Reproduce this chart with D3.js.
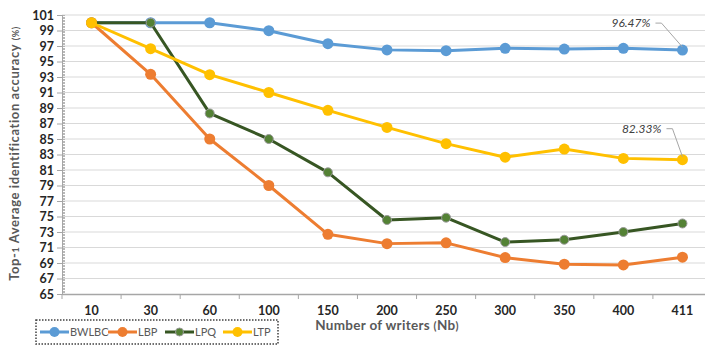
<!DOCTYPE html>
<html>
<head>
<meta charset="utf-8">
<script src="https://cdn.jsdelivr.net/npm/d3@7"></script>
<style>
  body { margin: 0; background: #fff; }
  text { font-family: Lato, "Open Sans", sans-serif; }
</style>
</head>
<body>
<script>
const width = 705;
const height = 345;

const writers = ["10", "30", "60", "100", "150", "200", "250", "300", "350", "400", "411"];
const bwlbc = [100, 100, 100, 98.97, 97.3, 96.5, 96.4, 96.7, 96.6, 96.7, 96.47];
const lbp   = [100, 93.35, 85.0, 79.0, 72.7, 71.5, 71.6, 69.7, 68.85, 68.75, 69.75];
const lpq   = [100, 100, 88.3, 85.0, 80.7, 74.55, 74.85, 71.7, 72.0, 73.0, 74.1];
const ltp   = [100, 96.65, 93.3, 91.0, 88.7, 86.5, 84.4, 82.65, 83.7, 82.5, 82.33];
const yTicks = d3.range(65, 102, 2);

const series = [
  {name: "BWLBC", values: bwlbc, line: "#5b9bd5", dot: "#5b9bd5", r: 5.5},
  {name: "LBP",   values: lbp,   line: "#ed7d31", dot: "#ed7d31", r: 5.5},
  {name: "LPQ",   values: lpq,   line: "#375623", dot: "#548235", r: 4.5},
  {name: "LTP",   values: ltp,   line: "#ffc000", dot: "#ffc000", r: 5.5}
];

const margin = {left: 62, top: 15, right: -7, bottom: 51};

const svg = d3.select('body')
  .append('svg')
  .attr('width', width)
  .attr('height', height);

const x = d3.scaleBand()
  .domain(writers)
  .range([margin.left, width - margin.right]);

const y = d3.scaleLinear()
  .domain([65, 101])
  .range([height - margin.bottom, margin.top]);

// grid lines
svg.append("g")
  .selectAll("line")
  .data(yTicks.slice(1))
  .enter().append("line")
  .attr("x1", margin.left)
  .attr("x2", width - margin.right)
  .attr("y1", d => y(d))
  .attr("y2", d => y(d))
  .attr("stroke", "#d9d9d9")
  .attr("stroke-width", 1);

// minor ticks on y axis (inside)
svg.append("g")
  .selectAll("line")
  .data(d3.range(65, 101.01, 0.2))
  .enter().append("line")
  .attr("x1", margin.left)
  .attr("x2", margin.left + 3)
  .attr("y1", d => Math.round(y(d)) + 0.5)
  .attr("y2", d => Math.round(y(d)) + 0.5)
  .attr("stroke", "#a6a6a6")
  .attr("stroke-width", 0.8);

// y axis
const yAxis = svg.append("g")
  .attr("transform", `translate(${margin.left},0)`)
  .call(d3.axisLeft(y).tickValues(yTicks).tickSize(5).tickPadding(3));
yAxis.select(".domain").attr("stroke", "#a6a6a6");
yAxis.selectAll(".tick line").attr("stroke", "#a6a6a6");
yAxis.selectAll(".tick text")
  .attr("fill", "#262626")
  .style("font-size", "12.5px")
  .style("font-weight", "bold");

// x axis, ticks between categories
const xAxis = svg.append("g")
  .attr("transform", `translate(0,${height - margin.bottom})`)
  .call(d3.axisBottom(x).tickSize(0).tickPadding(12));
xAxis.select(".domain").attr("stroke", "#a6a6a6").attr("stroke-width", 1.3);
xAxis.selectAll(".tick text")
  .attr("fill", "#262626")
  .style("font-size", "12.5px")
  .style("font-weight", "bold");
xAxis.selectAll(".sep")
  .data(writers)
  .enter().append("line")
  .attr("class", "sep")
  .attr("x1", d => x(d))
  .attr("x2", d => x(d))
  .attr("y1", 0)
  .attr("y2", 5)
  .attr("stroke", "#a6a6a6");

// lines + markers
const line = d3.line()
  .x((d, i) => x(writers[i]) + x.bandwidth() / 2)
  .y(d => y(d));

series.forEach(s => {
  svg.append("path")
    .datum(s.values)
    .attr("fill", "none")
    .attr("stroke", s.line)
    .attr("stroke-width", 3)
    .attr("stroke-linejoin", "round")
    .attr("d", line);
  svg.append("g")
    .selectAll("circle")
    .data(s.values)
    .enter().append("circle")
    .attr("cx", (d, i) => x(writers[i]) + x.bandwidth() / 2)
    .attr("cy", d => y(d))
    .attr("r", s.r)
    .attr("fill", s.dot)
    .attr("stroke", s.name == "LPQ" ? "#9a9a9a" : "none")
    .attr("stroke-width", 1);
});

// data labels with leader lines
const labels = [
  {s: bwlbc, text: "96.47%", dx: -27, dy: -27},
  {s: ltp, text: "82.33%", dx: -16, dy: -31}
];
labels.forEach(l => {
  const px = x("411") + x.bandwidth() / 2;
  const py = y(l.s[10]);
  const lx = px + l.dx, ly = py + l.dy;
  svg.append("path")
    .attr("d", `M${px},${py - 3}L${lx + 6},${ly}L${lx},${ly}`)
    .attr("fill", "none")
    .attr("stroke", "#a6a6a6")
    .attr("stroke-width", 1);
  svg.append("text")
    .attr("x", lx - 5)
    .attr("y", ly + 4)
    .attr("text-anchor", "end")
    .attr("fill", "#404040")
    .style("font-size", "12px")
    .style("font-style", "italic")
    .text(l.text);
});

// axis titles
const yTitle = svg.append("text")
  .attr("transform", `translate(19,${(y(65) + y(101)) / 2 - 1}) rotate(-90)`)
  .attr("text-anchor", "middle")
  .attr("fill", "#595959")
  .style("font-size", "13px")
  .style("font-weight", "bold")
  .style("letter-spacing", "0.6px");
yTitle.append("tspan").text("Top-");
yTitle.append("tspan").style("font-size", "9px").text("1");
yTitle.append("tspan").text(" Average identification accuracy ");
yTitle.append("tspan").style("font-size", "9px").text("(%)");

const xTitle = svg.append("text")
  .attr("x", 387)
  .attr("y", 330)
  .attr("text-anchor", "middle")
  .attr("fill", "#595959")
  .style("font-size", "13.5px")
  .style("font-weight", "bold")
  .style("letter-spacing", "0.3px");
xTitle.append("tspan").text("Number of writers ");
xTitle.append("tspan").style("font-size", "11px").text("(");
xTitle.append("tspan").text("Nb");
xTitle.append("tspan").style("font-size", "11px").text(")");

// legend
const legend = svg.append("g").attr("transform", "translate(36,320)");
legend.append("rect")
  .attr("width", 242)
  .attr("height", 24)
  .attr("fill", "none")
  .attr("stroke", "#404040")
  .attr("stroke-width", 1.5)
  .attr("stroke-dasharray", "1.5,1.5");

const legendX = [4, 72, 129, 187];
series.forEach((s, i) => {
  const g = legend.append("g").attr("transform", `translate(${legendX[i]},12)`);
  g.append("line")
    .attr("x1", 0).attr("x2", 29)
    .attr("stroke", s.line)
    .attr("stroke-width", 3);
  g.append("circle")
    .attr("cx", 14.5)
    .attr("r", s.r - 0.5)
    .attr("fill", s.dot)
    .attr("stroke", s.name == "LPQ" ? "#9a9a9a" : "none");
  g.append("text")
    .attr("x", 30)
    .attr("y", 4)
    .attr("fill", "#595959")
    .style("font-size", "11px")
    .text(s.name);
});
</script>
</body>
</html>
